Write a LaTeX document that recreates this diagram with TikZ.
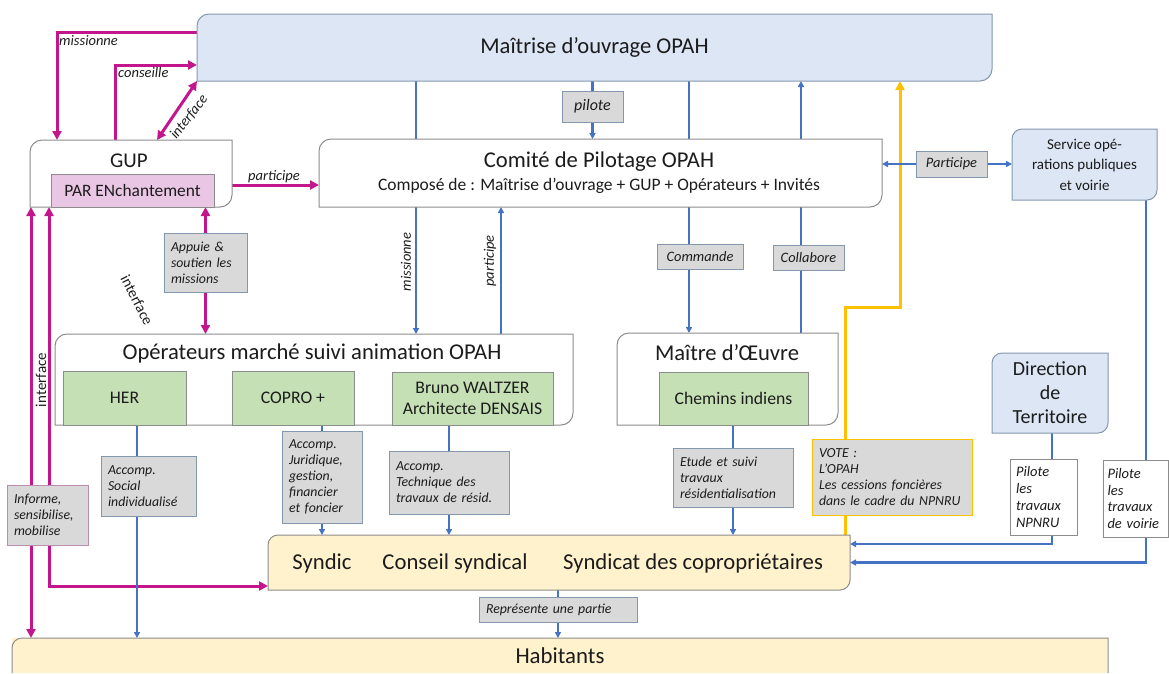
\documentclass[tikz,border=0pt]{standalone}
\usepackage{fontspec}
\setmainfont{Carlito}
\usetikzlibrary{arrows.meta}
\pgfdeclarelayer{lines}
\pgfdeclarelayer{boxes}
\pgfsetlayers{lines,boxes,main}
\definecolor{bl}{RGB}{68,114,196}
\definecolor{mg}{RGB}{196,22,140}
\definecolor{yl}{RGB}{255,192,0}
\definecolor{lblfill}{RGB}{217,217,217}
\definecolor{lblbd}{RGB}{132,151,176}
\definecolor{bluefill}{RGB}{220,230,244}
\definecolor{greenfill}{RGB}{197,224,180}
\definecolor{yelfill}{RGB}{255,242,204}
\definecolor{pinkfill}{RGB}{232,198,228}
\definecolor{pinkbd}{RGB}{190,140,175}
\definecolor{bdgray}{RGB}{140,140,140}
\definecolor{txt}{RGB}{28,28,28}
\newcommand\drnd[3][]{\draw[#1] (#2.south west) -- ([yshift=-#3]#2.north west) arc[start angle=180,end angle=90,radius=#3] -- (#2.north east) -- ([yshift=#3]#2.south east) arc[start angle=0,end angle=-90,radius=#3] -- cycle;}
\begin{document}
\begin{tikzpicture}[x=1pt,y=-1pt,
 corners/.style n args={4}{at={({(#1+#3)/2},{(#2+#4)/2})},minimum width={(#3-#1)*1pt},minimum height={(#4-#2)*1pt},inner sep=0pt,outer sep=0pt},
 tbox/.style n args={4}{corners={#1}{#2}{#3}{#4},text width={(#3-#1-14)*1pt}},
 lbl/.style={draw=lblbd,fill=lblfill,line width=1pt,text=txt,align=left,font=\fontsize{13.8}{16}\selectfont\itshape},
 clbl/.style={draw=lblbd,fill=lblfill,line width=1pt,text=txt,align=center,font=\fontsize{14.4}{17}\selectfont\itshape},
 grn/.style={draw=bdgray,fill=greenfill,line width=1pt,text=txt,align=center,font=\fontsize{17.7}{21}\selectfont},
 big/.style={text=txt,font=\fontsize{22.6}{27}\selectfont},
 mlab/.style={text=txt,inner sep=1pt,font=\fontsize{14.5}{17}\selectfont\itshape},
 rlab/.style={text=txt,inner sep=1pt,font=\fontsize{15}{18}\selectfont},
 shblue/.style={fill=bluefill,draw=lblbd,line width=1pt},
 shwhite/.style={fill=white,draw=bdgray,line width=1pt},
 shyel/.style={fill=yelfill,draw=bdgray,line width=1pt},
 bline/.style={draw=bl,line width=2.2pt},
 barrow/.style={bline,-{Triangle[length=6pt,width=6pt]}},
 bdbl/.style={bline,{Triangle[length=6pt,width=6pt]}-{Triangle[length=6pt,width=6pt]}},
 mline/.style={draw=mg,line width=3pt},
 marr/.style={mline,-{Triangle[length=9pt,width=9pt]}},
 mdbl/.style={mline,{Triangle[length=9pt,width=9pt]}-{Triangle[length=9pt,width=9pt]}},
 yline/.style={draw=yl,line width=3pt},
 yarr/.style={yline,-{Triangle[length=9pt,width=9pt]}}]
\useasboundingbox (0,0) rectangle (1169,673);

% main boxes
\node[big,corners={197}{14}{992}{81}] (mo) {Maîtrise d’ouvrage OPAH};
\node[corners={319}{139}{882}{207}] (cp) {};
\node[big] (cpt) at (599,162) {Comité de Pilotage OPAH};
\node[text=txt,font=\fontsize{17.5}{21}\selectfont] (cps) at (599,186) {Composé de : Maîtrise d’ouvrage + GUP + Opérateurs + Invités};
\node[corners={30}{140}{232}{207}] (gup) {};
\node[text=txt,font=\fontsize{21}{25}\selectfont] (gupt) at (129,161) {GUP};
\node[corners={51}{174}{214}{207},draw=bdgray,fill=pinkfill,line width=1pt,text=txt,font=\fontsize{17.4}{20}\selectfont] (par) {PAR ENchantement};
\node[corners={55}{334}{573}{425}] (ops) {};
\node[big] (opst) at (312,353) {Opérateurs marché suivi animation OPAH};
\node[grn,corners={63}{371}{186}{425}] (her) {HER};
\node[grn,corners={232}{371}{354}{425}] (copro) {COPRO +};
\node[grn,corners={392}{372}{553}{425}] (bruno) {Bruno WALTZER\\Architecte DENSAIS};
\node[corners={617}{333}{838}{425}] (moe) {};
\node[big] (moet) at (727,353) {Maître d’Œuvre};
\node[grn,corners={659}{372}{808}{425}] (chemins) {Chemins indiens};
\node[corners={1012}{129}{1157}{200},align=center,text=txt,font=\fontsize{15}{20.5}\selectfont] (svc) {Service opé-\\rations publiques\\et voirie};
\node[corners={992}{353}{1108}{433},align=center,text=txt,font=\fontsize{20}{24}\selectfont] (dir) {Direction\\de\\Territoire};
\node[corners={268}{535}{850}{590}] (syn) {};
\node[text=txt,font=\fontsize{22.7}{26}\selectfont] (syndic) at (322,563) {Syndic};
\node[text=txt,font=\fontsize{22.7}{26}\selectfont] (conseil) at (455,563) {Conseil syndical};
\node[text=txt,font=\fontsize{22.7}{26}\selectfont] (syndicat) at (693,563) {Syndicat des copropriétaires};
\node[corners={12}{638}{1108}{673},text=txt,font=\fontsize{22.8}{26}\selectfont] (hab) {Habitants};

% label boxes
\node[clbl,corners={562}{91}{623}{122},font=\fontsize{16}{19}\selectfont\itshape] (lpilote) {pilote};
\node[clbl,corners={657}{244}{743}{269}] (lcommande) {Commande};
\node[clbl,corners={773}{245}{844}{270}] (lcollabore) {Collabore};
\node[clbl,corners={916}{151}{987}{177}] (lparticipe) {Participe};
\node[lbl,tbox={164}{233}{247}{292}] (lappuie) {Appuie \&\\soutien les\\missions};
\node[lbl,tbox={7}{485}{88}{545},draw=pinkbd] (linforme) {Informe,\\sensibilise,\\mobilise};
\node[lbl,tbox={101}{456}{196}{516}] (lsocial) {Accomp.\\Social\\individualisé};
\node[lbl,tbox={282}{431}{362}{523}] (ljurid) {Accomp.\\Juridique,\\gestion,\\financier\\et foncier};
\node[lbl,tbox={389}{451}{509}{514}] (ltech) {Accomp.\\Technique des\\travaux de résid.};
\node[lbl,tbox={673}{448}{793}{507}] (letude) {Etude et suivi\\travaux\\résidentialisation};
\node[lbl,tbox={812}{439}{972}{515},draw=yl] (lvote) {VOTE :\\L’OPAH\\Les cessions foncières\\dans le cadre du NPNRU};
\node[lbl,tbox={1010}{459}{1077}{535},fill=white,draw=bdgray,text width=55pt,font=\fontsize{14.5}{16.7}\selectfont\itshape] (lnpnru) {Pilote\\les\\travaux\\NPNRU};
\node[lbl,tbox={1103}{460}{1168}{537},fill=white,draw=bdgray,text width=56pt,font=\fontsize{14.5}{16.7}\selectfont\itshape] (lvoirie) {Pilote\\les\\travaux\\de voirie};
\node[lbl,tbox={479}{597}{637}{622}] (lrep) {Représente une partie};

% free labels
\node[mlab,anchor=west] (tmiss) at (58,41) {missionne};
\node[mlab,anchor=west] (tcons) at (117,73) {conseille};
\node[mlab,rotate=52] (tint1) at (189,117) {interface};
\node[mlab] (tpart) at (274,177) {participe};
\node[mlab,rotate=90] (tmis2) at (406,262) {missionne};
\node[mlab,rotate=90] (tpar2) at (490,261) {participe};
\node[rlab,rotate=90] (tint2) at (41,380) {interface};
\node[rlab,rotate=-63] (tint3) at (137,300) {interface};

% helper coordinates
\coordinate (xa) at (416,0);
\coordinate (xb) at (501,0);
\coordinate (xcm) at (689,0);
\coordinate (xcl) at (801,0);
\coordinate (xy) at (845,0);
\coordinate (ybend) at (900,307);
\coordinate (xv) at (1146,0);
\coordinate (xd) at (1052,0);
\coordinate (ynp) at (0,544);
\coordinate (xh) at (137,0);
\coordinate (ym) at (0,32);
\coordinate (xm) at (57,0);
\coordinate (xc) at (115,0);
\coordinate (yc) at (0,65);
\coordinate (xi) at (157,0);
\coordinate (yp) at (0,185);
\coordinate (xf) at (31,0);
\coordinate (xg) at (49,0);
\coordinate (ysy) at (0,586);

\begin{pgfonlayer}{boxes}
\drnd[shblue]{mo}{12pt}
\drnd[shwhite]{cp}{12pt}
\drnd[shwhite]{gup}{12pt}
\drnd[shwhite]{ops}{12pt}
\drnd[shwhite]{moe}{12pt}
\drnd[shblue]{svc}{10pt}
\drnd[shblue]{dir}{10pt}
\drnd[shyel]{syn}{10pt}
\fill[yelfill] (hab.south west) rectangle (hab.north east);
\draw[bdgray,line width=1pt] (hab.south west) -- ([yshift=-10pt]hab.north west) arc[start angle=180,end angle=90,radius=10pt] -- (hab.north east) -- (hab.south east);
\end{pgfonlayer}

\begin{pgfonlayer}{lines}
% magenta
\draw[marr] (mo.west |- ym) -| (gup.north -| xm);
\draw[marr] (gup.north -| xc) |- (mo.west |- yc);
\draw[mdbl] (mo.south west) -- (gup.north -| xi);
\draw[marr] (gup.east |- yp) -- (cp.west |- yp);
\draw[mdbl] (gup.south -| lappuie) -- (ops.north -| lappuie);
\draw[mdbl] (gup.south -| xf) -- (hab.north -| xf);
\draw[mdbl] (gup.south -| xg) |- (syn.west |- ysy);
% yellow
\draw[yline] (syn.north -| xy) -- (lvote.south -| xy);
\draw[yarr] (lvote.north -| xy) |- (ybend) -- (mo.south -| ybend);
% blue
\draw[barrow] (mo.south -| lpilote) -- (cp.north -| lpilote);
\draw[barrow] (mo.south -| xa) -- (ops.north -| xa);
\draw[barrow] (ops.north -| xb) -- (cp.south -| xb);
\draw[barrow] (mo.south -| xcm) -- (moe.north -| xcm);
\draw[barrow] (moe.north -| xcl) -- (mo.south -| xcl);
\draw[bdbl] (cp.east |- lparticipe) -- (svc.west |- lparticipe);
\draw[barrow] (her.south -| xh) -- (hab.north -| xh);
\draw[barrow] (copro.south -| ljurid) -- (syn.north -| ljurid);
\draw[barrow] (bruno.south -| ltech) -- (syn.north -| ltech);
\draw[barrow] (chemins.south -| letude) -- (syn.north -| letude);
\draw[barrow] (syn.south -| lrep) -- (hab.north -| lrep);
\draw[bline] (svc.south -| xv) -- (lvoirie.north -| xv);
\draw[barrow] (lvoirie.south -| xv) |- (syn.east);
\draw[bline] (dir.south -| xd) -- (lnpnru.north -| xd);
\draw[barrow] (lnpnru.south -| xd) |- (syn.east |- ynp);
\end{pgfonlayer}
\end{tikzpicture}
\end{document}
